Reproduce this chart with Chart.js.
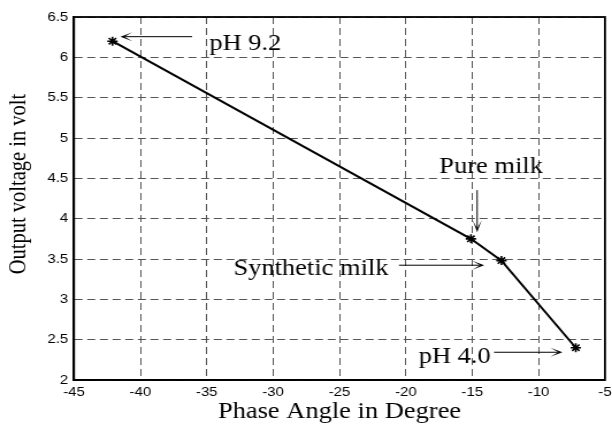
<!DOCTYPE html>
<html><head><meta charset="utf-8">
<script src="https://cdn.jsdelivr.net/npm/chart.js@4/dist/chart.umd.min.js"></script>
<style>
html,body{margin:0;padding:0;background:#fff;overflow:hidden;}
#wrap{width:532px;height:428px;transform:scaleX(1.1504);transform-origin:0 0;}
canvas{display:block;}
</style></head><body><div id="wrap"><canvas id="c" width="532" height="428"></canvas></div>
<script>
// ---- data ----
const phaseAngle = [-42.1, -15.1, -12.8, -7.2];
const outputVoltage = [6.2, 3.75, 3.48, 2.4];
const xTickValues = [-45, -40, -35, -30, -25, -20, -15, -10, -5];
const yTickValues = [2, 2.5, 3, 3.5, 4, 4.5, 5, 5.5, 6, 6.5];
const xAxisTitle = 'Phase Angle in Degree';
const yAxisTitle = 'Output voltage in volt';
// annotation texts with anchor points (data units)
const noteText = ['pH 9.2', 'Pure milk', 'Synthetic milk', 'pH 4.0'];
const noteX = [-34.8, -13.58, -32.99, -19.03];
const noteY = [6.16, 4.64, 3.374, 2.28];
const noteAlign = ['left', 'center', 'left', 'left'];
// arrows: tail -> head (data units)
const arrowTailX = [-36.1, -14.63, -20.52, -13.36];
const arrowTailY = [6.256, 4.354, 3.423, 2.344];
const arrowHeadX = [-41.5, -14.63, -14.1, -8.21];
const arrowHeadY = [6.256, 3.833, 3.423, 2.344];

const SX = 1.1504; // horizontal stretch of the page
const serif = "'Liberation Serif', 'Times New Roman', serif";
const sans = "'Liberation Sans', Arial, sans-serif";

const extras = {
  id: 'extras',
  afterDatasetsDraw(chart) {
    const ctx = chart.ctx, xs = chart.scales.x, ys = chart.scales.y;
    ctx.save();
    ctx.strokeStyle = '#000'; ctx.fillStyle = '#000'; ctx.lineWidth = 1;
    for (let i = 0; i < arrowTailX.length; i++) {
      const x1 = xs.getPixelForValue(arrowTailX[i]), y1 = ys.getPixelForValue(arrowTailY[i]);
      const x2 = xs.getPixelForValue(arrowHeadX[i]), y2 = ys.getPixelForValue(arrowHeadY[i]);
      const dxr = (x2 - x1) * SX, dyr = (y2 - y1);
      const len = Math.hypot(dxr, dyr);
      const ux = dxr / len, uy = dyr / len, nx = -uy, ny = ux;
      const L = 12, W = 4.5, N = 8;
      const P = (a, b) => [x2 + (-ux * a + nx * b) / SX, y2 + (-uy * a + ny * b)];
      ctx.beginPath(); ctx.moveTo(x1, y1);
      const inner = P(L - N, 0);
      ctx.lineTo(inner[0], inner[1]); ctx.stroke();
      const p1 = P(L, W), p2 = P(L, -W);
      ctx.beginPath(); ctx.moveTo(x2, y2); ctx.lineTo(p1[0], p1[1]);
      ctx.lineTo(inner[0], inner[1]); ctx.lineTo(p2[0], p2[1]); ctx.closePath(); ctx.fill();
    }
    ctx.font = '23px ' + serif; ctx.textBaseline = 'middle'; ctx.fillStyle = '#000';
    for (let i = 0; i < noteText.length; i++) {
      ctx.textAlign = noteAlign[i];
      ctx.fillText(noteText[i], xs.getPixelForValue(noteX[i]), ys.getPixelForValue(noteY[i]));
    }
    ctx.restore();
  },
  afterDraw(chart) {
    const ctx = chart.ctx, a = chart.chartArea;
    ctx.save();
    ctx.strokeStyle = '#000'; ctx.lineWidth = 1.8;
    ctx.strokeRect(a.left, a.top, a.right - a.left, a.bottom - a.top);
    ctx.fillStyle = '#000'; ctx.textAlign = 'center'; ctx.textBaseline = 'middle';
    ctx.font = '23px ' + serif;
    ctx.fillText(xAxisTitle, (a.left + a.right) / 2, 412);
    ctx.translate(16.5, 184); ctx.rotate(-Math.PI / 2);
    ctx.font = '20.5px ' + serif;
    ctx.fillText(yAxisTitle, 0, 0);
    ctx.restore();
  }
};

new Chart(document.getElementById('c'), {
  type: 'line',
  data: {
    datasets: [{
      data: phaseAngle.map((x, i) => ({x: x, y: outputVoltage[i]})),
      borderColor: '#000', borderWidth: 2, tension: 0,
      pointStyle: 'star', pointRadius: 4.5, pointBorderWidth: 1.6,
      pointBorderColor: '#000', pointBackgroundColor: '#000', fill: false
    }]
  },
  options: {
    responsive: false, animation: false, devicePixelRatio: 1,
    layout: {padding: {left: 0, right: 1.6, top: 17, bottom: 0}},
    plugins: {legend: {display: false}, tooltip: {enabled: false}},
    scales: {
      x: {
        type: 'linear', min: -45, max: -5,
        afterBuildTicks: s => { s.ticks = xTickValues.map(v => ({value: v})); },
        afterFit: s => { s.height = 48; s.paddingLeft = 0; s.paddingRight = 0; },
        grid: {color: '#555', lineWidth: 1, drawTicks: false},
        border: {display: true, color: '#000', width: 1.8, dash: [7, 4]},
        ticks: {color: '#000', font: {family: sans, size: 13}, padding: 5, maxRotation: 0, autoSkip: false,
                callback: v => String(v)}
      },
      y: {
        type: 'linear', min: 2, max: 6.5,
        afterBuildTicks: s => { s.ticks = yTickValues.map(v => ({value: v})); },
        afterFit: s => { s.width = 64.3; s.paddingTop = 0; s.paddingBottom = 0; },
        grid: {color: '#555', lineWidth: 1, drawTicks: false},
        border: {display: true, color: '#000', width: 1.8, dash: [7, 4]},
        ticks: {color: '#000', font: {family: sans, size: 13}, padding: 5, autoSkip: false,
                callback: v => String(v)}
      }
    }
  },
  plugins: [extras]
});
</script></body></html>
